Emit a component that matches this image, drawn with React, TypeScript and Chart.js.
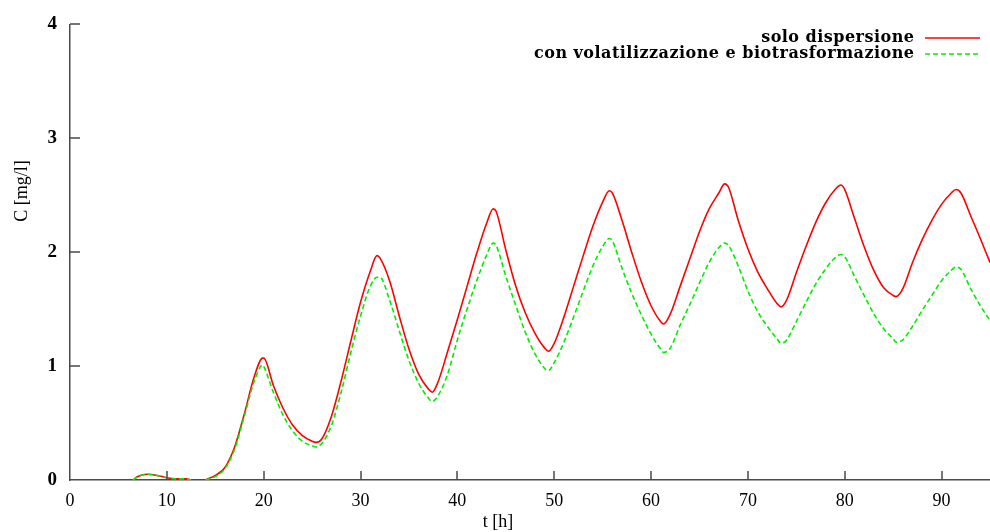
import React, { useEffect, useRef } from "react";
import { Chart, registerables } from "chart.js";

Chart.register(...registerables);

const times = [
  6.5, 7, 8, 9, 10, 11, 12, 12.5, 13, 14, 15, 16, 17, 18, 19, 19.9, 20, 21, 22, 23, 24, 25, 25.4,
  26, 27, 28, 29, 30, 31, 31.7, 32, 33, 34, 35, 36, 37, 37.4, 38, 39, 40, 41, 42, 43, 43.7,
  44, 45, 46, 47, 48, 49, 49.4, 50, 51, 52, 53, 54, 55, 55.7, 56, 57, 58, 59, 60, 61, 61.3,
  62, 63, 64, 65, 66, 67, 67.6, 68, 69, 70, 71, 72, 73, 73.4, 74, 75, 76, 77, 78, 79, 79.6,
  80, 81, 82, 83, 84, 85, 85.3, 86, 87, 88, 89, 90, 91, 91.5, 92, 93, 94, 95,
];

const soloDispersione = [
  0, 0.03, 0.05, 0.04, 0.02, 0.01, 0.01, 0, null, 0, 0.04, 0.11, 0.29, 0.58, 0.9, 1.07, 1.07, 0.83, 0.63, 0.48, 0.39, 0.34, 0.33,
  0.36, 0.56, 0.87, 1.22, 1.56, 1.83, 1.97, 1.95, 1.75, 1.44, 1.15, 0.93, 0.8, 0.77, 0.86, 1.13, 1.41, 1.7, 1.99, 2.25, 2.38,
  2.36, 2.02, 1.71, 1.47, 1.29, 1.16, 1.13, 1.2, 1.43, 1.7, 1.97, 2.23, 2.44, 2.54, 2.52, 2.28, 2.0, 1.74, 1.53, 1.39, 1.37,
  1.46, 1.7, 1.94, 2.18, 2.38, 2.52, 2.6, 2.57, 2.28, 2.03, 1.83, 1.68, 1.55, 1.52, 1.58, 1.82, 2.05, 2.26, 2.43, 2.55, 2.59,
  2.55, 2.3, 2.05, 1.84, 1.69, 1.62, 1.61, 1.68, 1.91, 2.11, 2.28, 2.42, 2.52, 2.55, 2.52, 2.32, 2.12, 1.91,
];

const conVolatilizzazione = [
  0, 0.03, 0.05, 0.04, 0.02, 0.01, 0.01, 0, null, 0, 0.03, 0.1, 0.27, 0.56, 0.86, 1.01, 1.0, 0.77, 0.57, 0.43, 0.34, 0.3, 0.29,
  0.32, 0.48, 0.77, 1.12, 1.44, 1.7, 1.78, 1.78, 1.58, 1.31, 1.05, 0.85, 0.72, 0.69, 0.74, 0.93, 1.23, 1.5, 1.75, 1.97, 2.08,
  2.06, 1.79, 1.54, 1.3, 1.11, 0.98, 0.96, 1.03, 1.21, 1.43, 1.66, 1.88, 2.05, 2.12, 2.1, 1.86, 1.64, 1.45, 1.28, 1.15, 1.12,
  1.16, 1.36, 1.54, 1.73, 1.91, 2.04, 2.08, 2.06, 1.88, 1.66, 1.48, 1.35, 1.24, 1.2, 1.23, 1.39, 1.56, 1.72, 1.85, 1.95, 1.98,
  1.96, 1.79, 1.62, 1.46, 1.33, 1.24, 1.21, 1.23, 1.35, 1.49, 1.62, 1.75, 1.84, 1.87, 1.85, 1.68, 1.53, 1.4,
];

const xTicks = [0, 10, 20, 30, 40, 50, 60, 70, 80, 90];
const yTicks = [0, 1, 2, 3, 4];

const seriesNames = ["solo dispersione", "con volatilizzazione e biotrasformazione"];
const xTitle = "t [h]";
const yTitle = "C [mg/l]";

const RED = "#ff0000";
const GREEN = "#00ee00";
const AXIS = "#4a4a4a";

const decorPlugin = {
  id: "decor",
  afterDraw(chart: any) {
    const { ctx, chartArea, scales } = chart;
    const x = scales.x;
    const y = scales.y;
    ctx.save();
    ctx.strokeStyle = AXIS;
    ctx.lineWidth = 1.5;
    ctx.beginPath();
    xTicks.forEach((v) => {
      if (v === 0) return;
      const px = Math.round(x.getPixelForValue(v));
      ctx.moveTo(px, chartArea.bottom);
      ctx.lineTo(px, chartArea.bottom - 9);
    });
    yTicks.forEach((v) => {
      if (v === 0) return;
      const py = Math.round(y.getPixelForValue(v));
      ctx.moveTo(chartArea.left, py);
      ctx.lineTo(chartArea.left + 10, py);
    });
    ctx.stroke();

    // axis titles
    ctx.fillStyle = "#000";
    ctx.font = "18px 'Liberation Serif'";
    ctx.textAlign = "center";
    ctx.textBaseline = "middle";
    ctx.fillText(xTitle, 498, 522);
    ctx.save();
    ctx.translate(22, 191);
    ctx.rotate(-Math.PI / 2);
    ctx.fillText(yTitle, 0, 0);
    ctx.restore();

    // legend
    ctx.font = "bold 16px 'DejaVu Serif'";
    ctx.textAlign = "right";
    ctx.textBaseline = "middle";
    const targetW = 380;
    const base = ctx.measureText(seriesNames[1]).width;
    const spacing = Math.max(0, (targetW - base) / (seriesNames[1].length - 1));
    (ctx as any).letterSpacing = spacing.toFixed(2) + "px";
    const rows = [
      { text: seriesNames[0], color: RED, dash: [] as number[], y: 38 },
      { text: seriesNames[1], color: GREEN, dash: [5, 3], y: 54 },
    ];
    rows.forEach((r) => {
      ctx.fillStyle = "#000";
      ctx.fillText(r.text, 914 + spacing, r.y);
      ctx.strokeStyle = r.color;
      ctx.lineWidth = 1.5;
      ctx.setLineDash(r.dash);
      ctx.beginPath();
      ctx.moveTo(925, r.y);
      ctx.lineTo(980, r.y);
      ctx.stroke();
    });
    (ctx as any).letterSpacing = "0px";
    ctx.setLineDash([]);
    ctx.restore();
  },
};

export default function App() {
  const ref = useRef<HTMLCanvasElement>(null);
  useEffect(() => {
    if (!ref.current) return;
    const chart = new Chart(ref.current, {
      type: "line",
      data: {
        datasets: [
          {
            label: seriesNames[0],
            data: times.map((t, i) => ({ x: t, y: soloDispersione[i] })),
            borderColor: RED,
            borderWidth: 1.6,
            pointRadius: 0,
            cubicInterpolationMode: "monotone",
            fill: false,
            order: 2,
          },
          {
            label: seriesNames[1],
            data: times.map((t, i) => ({ x: t, y: conVolatilizzazione[i] })),
            borderColor: GREEN,
            borderWidth: 1.6,
            borderDash: [5, 3],
            pointRadius: 0,
            cubicInterpolationMode: "monotone",
            fill: false,
            order: 1,
          },
        ] as any,
      },
      options: {
        animation: false,
        responsive: false,
        layout: { padding: { top: 24, right: 0, left: 0, bottom: 0 } },
        plugins: { legend: { display: false }, tooltip: { enabled: false } },
        scales: {
          x: {
            type: "linear",
            min: 0,
            max: 95,
            afterFit: (s: any) => {
              s.height = 52;
            },
            afterBuildTicks: (s: any) => {
              s.ticks = xTicks.map((v) => ({ value: v }));
            },
            grid: { display: false, drawTicks: false },
            border: { display: true, color: AXIS, width: 1.5 },
            ticks: {
              color: "#000",
              padding: 10,
              maxRotation: 0,
              autoSkip: false,
              font: { family: "'Liberation Serif'", size: 18 },
            },
          },
          y: {
            type: "linear",
            min: 0,
            max: 4,
            afterFit: (s: any) => {
              s.width = 70;
            },
            afterBuildTicks: (s: any) => {
              s.ticks = yTicks.map((v) => ({ value: v }));
            },
            grid: { display: false, drawTicks: false },
            border: { display: true, color: AXIS, width: 1.5 },
            ticks: {
              color: "#000",
              padding: 13,
              font: { family: "'Liberation Serif'", size: 19, weight: "bold" },
            },
          },
        },
      } as any,
      plugins: [decorPlugin],
    });
    return () => chart.destroy();
  }, []);
  return (
    <div style={{ position: "absolute", left: 0, top: 0, width: 990, height: 532, background: "#fff" }}>
      <canvas ref={ref} width={990} height={532} style={{ width: 990, height: 532, display: "block" }} />
    </div>
  );
}
